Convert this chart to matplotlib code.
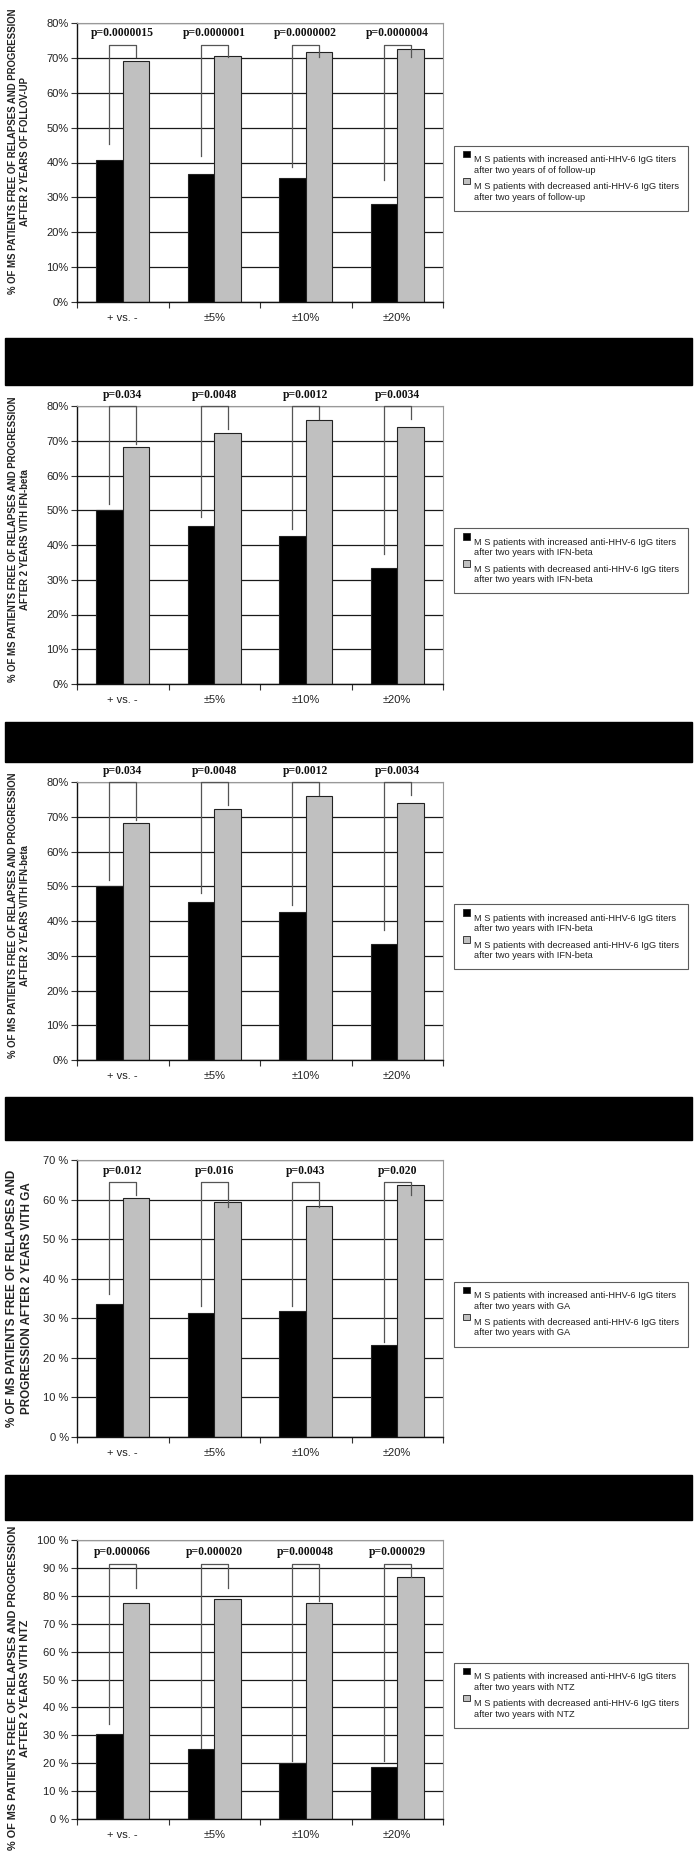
import matplotlib
matplotlib.use('Agg')
import matplotlib.pyplot as plt
from matplotlib.patches import Patch, Rectangle
from matplotlib.legend_handler import HandlerPatch
from matplotlib.ticker import MultipleLocator, FuncFormatter

# category labels on the x axis
categories = ['+ vs. -', '±5%', '±10%', '±20%']

# % of MS patients free of relapses and progression
inc_followup = [40.8, 36.7, 35.5, 28.2]
dec_followup = [69.0, 70.6, 71.6, 72.6]
p_followup = ['p=0.0000015', 'p=0.0000001', 'p=0.0000002', 'p=0.0000004']

inc_ifn = [50.0, 45.5, 42.5, 33.4]
dec_ifn = [68.2, 72.3, 76.0, 74.0]
p_ifn = ['p=0.034', 'p=0.0048', 'p=0.0012', 'p=0.0034']

inc_ga = [33.6, 31.3, 31.9, 23.3]
dec_ga = [60.5, 59.4, 58.4, 63.6]
p_ga = ['p=0.012', 'p=0.016', 'p=0.043', 'p=0.020']

inc_ntz = [30.5, 25.0, 20.2, 18.5]
dec_ntz = [77.4, 78.7, 77.4, 86.6]
p_ntz = ['p=0.000066', 'p=0.000020', 'p=0.000048', 'p=0.000029']

# bracket geometry for the p-values (top, left leg end, right leg end, label y)
br_followup = (73.8, [45.4, 42.0, 38.7, 34.9], [70.3, 70.3, 70.3, 70.3], 77.0)
br_ifn = (80.0, [51.7, 48.0, 44.5, 37.4], [69.2, 73.3, 76.4, 76.4], 83.3)
br_ga = (64.4, [36.2, 33.1, 33.2, 24.0], [61.1, 58.0, 58.0, 61.1], 67.3)
br_ntz = (91.4, [34.1, 25.3, 20.9, 20.9], [82.7, 82.7, 78.3, 86.8], 95.6)

ylab_top = '% OF MS PATIENTS FREE OF RELAPSES AND PROGRESSION'
leg_inc = 'M S patients with increased anti-HHV-6 IgG titers\n'
leg_dec = 'M S patients with decreased anti-HHV-6 IgG titers\n'

W, H = 697, 1859
fig = plt.figure(figsize=(W / 100, H / 100), dpi=100)

# panels: (axes top px, axes bottom px, ymax, data..., ylabel, ylabel size, ylabel y, pct fmt)
panels = [
    (23, 302, 80, inc_followup, dec_followup, p_followup, br_followup,
     ylab_top + '\nAFTER 2 YEARS OF FOLLOV-UP', 6.95, 0.54, '{}%',
     'after two years of of follow-up', 'after two years of follow-up'),
    (406, 684, 80, inc_ifn, dec_ifn, p_ifn, br_ifn,
     ylab_top + '\nAFTER 2 YEARS VITH IFN-beta', 6.95, 0.52, '{}%',
     'after two years with IFN-beta', 'after two years with IFN-beta'),
    (782, 1060, 80, inc_ifn, dec_ifn, p_ifn, br_ifn,
     ylab_top + '\nAFTER 2 YEARS VITH IFN-beta', 6.95, 0.52, '{}%',
     'after two years with IFN-beta', 'after two years with IFN-beta'),
    (1160, 1437, 70, inc_ga, dec_ga, p_ga, br_ga,
     '% OF MS PATIENTS FREE OF RELAPSES AND\nPROGRESSION AFTER 2 YEARS VITH GA', 8.4, 0.5, '{} %',
     'after two years with GA', 'after two years with GA'),
    (1540, 1819, 100, inc_ntz, dec_ntz, p_ntz, br_ntz,
     ylab_top + '\nAFTER 2 YEARS VITH NTZ', 7.8, 0.47, '{} %',
     'after two years with NTZ', 'after two years with NTZ'),
]

# black separator bands between the panels
bands = [(338, 385), (722, 762), (1097, 1140), (1475, 1520)]
for y0, y1 in bands:
    fig.patches.append(Rectangle((5 / W, 1 - y1 / H), 687 / W, (y1 - y0) / H,
                                 transform=fig.transFigure, color='black', zorder=0))


# legend square sits next to the first line of each two-line entry
def top_square(legend, orig_handle, xdescent, ydescent, width, height, fontsize):
    return Rectangle((-xdescent, -ydescent + 1.2 * fontsize), width, height)


left, right = 77, 443
bw = 0.292
x = [i + 0.5 for i in range(len(categories))]

for (top, bot, ymax, inc, dec, pvals, br, ylab, ylsize, yly, fmt, l1, l2) in panels:
    ax = fig.add_axes([left / W, 1 - bot / H, (right - left) / W, (bot - top) / H])
    xb = [v - bw / 2 for v in x]
    xg = [v + bw / 2 for v in x]
    ax.bar(xb, inc, bw, color='black', edgecolor='#222', lw=0.8, zorder=2)
    ax.bar(xg, dec, bw, color='#c0c0c0', edgecolor='#222', lw=0.8, zorder=2)

    ax.set_xlim(0, 4)
    ax.set_ylim(0, ymax)
    ax.yaxis.set_major_locator(MultipleLocator(10))
    ax.yaxis.set_major_formatter(FuncFormatter(lambda v, pos, f=fmt: f.format(int(round(v)))))
    ax.yaxis.grid(True, color='#1a1a1a', lw=0.9)
    ax.set_axisbelow(True)

    ax.set_xticks([0, 1, 2, 3, 4])
    ax.set_xticklabels([])
    ax.set_xticks(x, minor=True)
    ax.set_xticklabels(categories, minor=True)
    ax.tick_params(axis='x', which='major', length=4, width=0.8, color='#333')
    ax.tick_params(axis='x', which='minor', length=0, pad=8)
    ax.tick_params(axis='y', length=4, width=0.8, color='#333', pad=2)
    for lab in ax.get_xticklabels(minor=True) + ax.get_yticklabels():
        lab.set_fontfamily('Liberation Sans')
        lab.set_fontsize(8)
        lab.set_color('#222')

    for s in ['left', 'bottom']:
        ax.spines[s].set_color('#111')
        ax.spines[s].set_linewidth(1.0)
    for s in ['top', 'right']:
        ax.spines[s].set_color('#999')
        ax.spines[s].set_linewidth(0.8)

    # p-value brackets
    btop, lefts, rights, py = br
    for i in range(len(categories)):
        ax.plot([xb[i], xb[i], xg[i], xg[i]], [lefts[i], btop, btop, rights[i]],
                color='#555', lw=0.9, zorder=3, clip_on=False)
        ax.text(x[i], py, pvals[i], ha='center', va='center', fontsize=8.4,
                fontweight='bold', family='Liberation Serif', color='#111', clip_on=False)

    ax.text(-0.158, yly, ylab, transform=ax.transAxes, rotation=90, ha='center', va='center',
            multialignment='center', fontsize=ylsize, fontweight='bold',
            family='Liberation Sans', color='#222', linespacing=1.3)

    handles = [Patch(facecolor='black', edgecolor='#222', lw=0.6),
               Patch(facecolor='#c0c0c0', edgecolor='#222', lw=0.6)]
    leg = ax.legend(handles, [leg_inc + l1, leg_dec + l2], loc='center left',
                    bbox_to_anchor=(1.03, 0.443), frameon=True, fancybox=False,
                    prop={'family': 'Liberation Sans', 'size': 6.7},
                    handlelength=0.7, handleheight=0.7, handletextpad=0.4,
                    labelspacing=0.8, borderpad=1.0, borderaxespad=0,
                    handler_map={Patch: HandlerPatch(patch_func=top_square)})
    leg.get_frame().set_edgecolor('#333')
    leg.get_frame().set_linewidth(0.8)
    for t in leg.get_texts():
        t.set_color('#222')

fig.savefig('out.png', dpi=100, facecolor='white')
